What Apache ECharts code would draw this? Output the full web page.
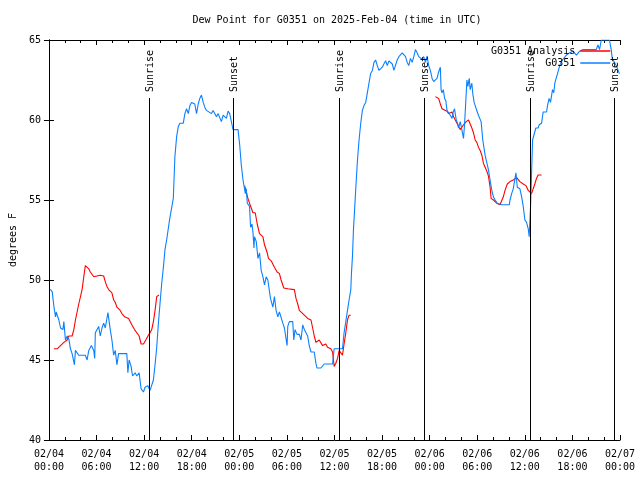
<!DOCTYPE html>
<html>
<head>
<meta charset="utf-8">
<script src="https://cdn.jsdelivr.net/npm/echarts@6/dist/echarts.min.js"></script>
<style>html,body{margin:0;padding:0;background:#fff}#c{width:640px;height:480px}</style>
</head>
<body>
<div id="c"></div>
<script>
// Time axis: hours since 2025-02-04 00:00 UTC
const xTickLabels = ['02/04\n00:00','02/04\n06:00','02/04\n12:00','02/04\n18:00','02/05\n00:00','02/05\n06:00','02/05\n12:00','02/05\n18:00','02/06\n00:00','02/06\n06:00','02/06\n12:00','02/06\n18:00','02/07\n00:00'];
const yTicks = [40, 45, 50, 55, 60, 65];

// G0351 observations
const obsHours = [0.16,0.41,0.63,0.83,0.92,1.04,1.25,1.46,1.76,1.88,2.08,2.30,2.51,2.71,2.92,3.21,3.34,3.55,3.76,4.59,4.81,5.02,5.35,5.65,5.77,5.85,6.06,6.27,6.47,6.69,6.90,7.10,7.44,7.73,7.94,8.16,8.36,8.57,8.78,8.98,9.20,9.82,9.95,10.11,10.36,10.54,10.87,11.08,11.37,11.62,11.92,12.12,12.46,12.75,12.96,13.17,13.38,13.59,13.80,14.00,14.22,14.43,14.63,14.84,15.22,15.68,15.88,16.10,16.31,16.51,16.94,17.14,17.35,17.57,17.77,17.98,18.39,18.61,18.82,19.02,19.23,19.45,19.65,19.86,20.08,20.49,20.70,20.90,21.12,21.33,21.53,21.74,21.96,22.16,22.37,22.59,22.79,23.00,23.21,23.84,24.04,24.25,24.47,24.59,24.67,24.76,24.88,25.01,25.29,25.42,25.60,25.72,25.85,25.92,26.14,26.35,26.55,26.76,26.98,27.18,27.39,27.60,27.80,27.93,28.23,28.43,28.64,28.86,29.06,29.27,29.49,29.69,29.90,30.03,30.11,30.31,30.53,30.74,30.87,31.03,31.28,31.57,31.78,32.00,32.20,32.41,32.62,32.82,33.04,33.45,33.66,33.79,34.29,34.70,35.76,35.96,36.59,37.01,37.21,37.43,37.64,37.84,38.06,38.14,38.27,38.39,38.56,38.72,38.90,39.10,39.31,39.52,39.72,39.94,40.15,40.35,40.56,40.78,40.98,41.19,41.40,41.61,41.82,42.03,42.23,42.45,42.66,42.86,43.07,43.29,43.49,43.70,43.91,44.12,44.33,44.54,44.74,44.96,45.17,45.37,45.58,45.80,46.00,46.21,46.42,46.62,46.84,47.05,47.25,47.47,47.68,47.88,48.09,48.31,48.51,48.72,48.93,49.13,49.35,49.44,49.56,49.72,49.89,50.04,50.19,50.39,50.60,50.82,50.98,51.14,51.35,51.52,51.64,51.86,52.07,52.27,52.40,52.57,52.70,52.82,52.99,53.11,53.32,53.45,53.61,53.87,54.03,54.15,54.37,54.49,54.70,54.87,54.99,55.21,55.41,55.62,55.84,56.04,56.25,56.54,57.09,58.04,58.13,58.34,58.54,58.76,58.88,59.05,59.38,59.60,59.80,60.01,60.22,60.43,60.55,60.73,60.85,60.98,61.14,61.39,61.68,61.81,62.11,62.31,62.74,62.86,63.06,63.24,63.49,63.65,63.78,63.99,64.12,64.32,64.40,64.62,64.74,65.24,65.66,66.07,66.50,66.91,67.33,69.01,69.21,69.42,69.64,70.67,70.89,71.02,71.52,71.93];
const obsDewpt = [49.42,49.27,48.33,47.7,48.0,47.8,47.5,47.0,46.9,47.4,46.25,46.5,46.3,45.7,45.4,44.7,45.6,45.7,45.3,45.3,45.0,45.6,45.9,45.6,45.1,46.7,46.8,47.1,46.5,47.0,47.3,47.0,47.96,46.9,46.25,45.3,45.6,44.7,45.4,45.3,45.4,45.4,44.2,45.0,44.6,44.0,44.2,44.0,44.2,43.2,43.0,43.3,43.4,43.1,43.0,43.75,44.7,45.8,47.3,48.5,49.8,50.8,51.9,52.5,53.8,55.1,57.7,58.96,59.6,59.8,59.8,60.4,60.7,60.4,60.9,61.1,61.0,60.4,61.0,61.35,61.56,61.1,60.8,60.6,60.5,60.4,60.6,60.7,60.2,60.4,60.3,59.9,60.3,60.4,60.1,60.56,60.4,59.9,59.4,59.4,58.5,57.2,56.25,55.9,55.8,55.4,55.7,54.8,54.6,53.3,53.5,53.0,52.0,52.7,52.4,51.35,51.7,50.6,50.2,49.7,50.2,50.0,50.0,48.85,48.3,48.96,48.1,47.7,48.0,47.9,47.3,47.0,47.1,45.9,47.1,47.4,47.3,47.4,46.25,46.9,46.6,46.6,46.25,47.2,46.9,46.7,46.5,45.9,45.5,45.5,44.8,44.5,44.5,44.75,44.75,45.7,45.7,45.7,46.7,47.4,48.1,48.75,49.4,50.4,51.5,53.1,54.6,56.0,57.5,58.75,59.8,60.6,60.9,61.1,61.2,62.3,62.9,63.1,63.6,63.75,63.4,63.1,63.0,63.3,63.5,63.7,63.4,63.7,63.7,63.5,63.1,63.0,63.75,63.96,64.0,64.2,64.2,63.96,63.6,63.4,63.85,63.6,63.96,64.4,64.2,63.96,64.06,63.8,63.96,63.6,64.0,63.4,63.1,62.6,62.4,62.5,62.6,63.0,63.3,61.9,61.7,61.9,61.35,61.2,60.6,60.5,60.3,60.1,60.5,60.7,60.0,59.8,59.5,59.9,59.8,58.85,59.7,61.3,62.5,62.1,62.6,61.9,62.3,61.6,61.1,60.7,60.6,60.3,60.2,59.9,58.75,58.65,57.8,57.8,56.9,56.25,55.6,55.2,55.0,54.8,54.7,54.7,55.0,55.4,55.7,55.8,56.7,55.8,55.7,55.2,54.6,53.75,53.6,53.2,52.7,54.7,56.7,58.75,58.75,59.5,59.5,59.7,59.8,60.5,60.5,60.9,61.35,61.1,61.9,61.7,62.3,62.4,62.9,63.0,63.4,63.3,63.75,64.06,64.2,64.3,64.06,64.3,64.4,64.4,64.7,64.4,65.0,65.0,64.4,63.85,63.4,62.9];

// G0351 Analysis (null = no analysis)
const anlHours = [0.63,1.04,1.46,1.88,2.30,2.51,2.92,3.14,3.34,3.55,3.76,3.96,4.18,4.39,4.59,4.81,5.02,5.22,5.43,5.65,6.06,6.47,6.90,7.10,7.31,7.53,7.94,8.16,8.36,8.57,8.98,9.20,9.54,10.04,10.45,10.79,11.08,11.37,11.62,11.92,12.21,12.55,12.75,12.96,13.17,13.38,13.59,13.88,19.0,24.67,24.88,25.09,25.29,25.51,25.72,26.01,26.26,26.55,26.98,27.18,27.52,27.68,28.02,28.43,28.77,29.06,29.27,29.61,30.11,30.94,31.15,31.37,31.57,31.78,32.20,32.62,33.04,33.25,33.45,33.66,33.88,34.08,34.50,34.91,35.13,35.54,35.76,35.96,36.17,36.39,36.59,36.80,37.01,37.21,37.43,37.64,37.84,38.06,43.0,48.72,49.13,49.35,49.56,49.76,50.19,50.39,50.60,50.82,51.02,51.23,51.45,51.64,51.86,52.07,52.27,52.61,52.90,53.11,53.32,53.53,53.74,53.95,54.15,54.37,54.58,54.78,54.99,55.21,55.41,55.62,55.75,56.04,56.46,56.87,57.09,57.29,57.50,57.79,58.13,58.54,58.97,59.38,59.80,60.14,60.43,60.85,61.05,61.26,61.47,61.67,62.11];
const anlDewpt = [45.7,45.7,45.9,46.1,46.25,46.5,46.5,46.9,47.5,48.0,48.5,48.6,49.4,50.2,50.9,50.9,50.7,50.5,50.4,50.2,50.25,50.3,50.25,49.9,49.6,49.4,49.2,48.75,48.6,48.3,48.1,47.9,47.7,47.6,47.2,46.9,46.7,46.5,46.0,46.0,46.25,46.56,46.7,46.9,47.4,48.1,48.96,49.06,null,55.9,55.85,55.1,54.8,54.5,54.2,54.2,53.5,52.9,52.7,52.2,51.7,51.35,51.2,50.8,50.5,50.4,50.0,49.5,49.45,49.4,48.85,48.5,48.1,48.0,47.8,47.6,47.5,47.0,46.5,46.1,46.0,46.25,45.9,46.0,45.8,45.7,45.5,44.6,44.8,45.1,45.6,45.6,45.3,46.0,46.7,47.5,47.8,47.8,null,61.46,61.35,61.0,60.7,60.6,60.55,60.4,60.3,60.5,60.2,60.0,59.8,59.6,59.4,59.5,59.7,59.9,60.0,59.9,59.5,59.2,58.75,58.6,58.3,58.1,57.8,57.3,57.2,56.8,56.5,55.8,55.1,55.0,54.8,54.7,54.7,55.2,55.6,56.0,56.15,56.25,56.4,56.15,56.0,55.9,55.6,55.4,55.7,56.0,56.35,56.56,56.56];

// Sunrise / sunset markers
const sunHours = [12.62, 23.17, 36.59, 47.25, 60.64, 71.22];
const sunLabels = ['Sunrise', 'Sunset', 'Sunrise', 'Sunset', 'Sunrise', 'Sunset'];

const FONT = '"DejaVu Sans Mono", monospace';
const zip = (a, b) => a.map((v, i) => [v, b[i]]);

const chart = echarts.init(document.getElementById('c'), null, {renderer: 'canvas'});
const baseX = {
  type: 'value', min: 0, max: 72, interval: 6,
  axisLine: {show: true, lineStyle: {color: '#000', width: 1}},
  axisTick: {show: true, inside: true, length: 5, lineStyle: {color: '#000'}},
  minorTick: {show: true, splitNumber: 3, length: 3, lineStyle: {color: '#000'}},
  splitLine: {show: false}
};
const baseY = {
  type: 'value', min: 40, max: 65, interval: 5,
  axisLine: {show: true, lineStyle: {color: '#000', width: 1}},
  axisTick: {show: true, inside: true, length: 5, lineStyle: {color: '#000'}},
  splitLine: {show: false}
};
chart.setOption({
  animation: false,
  backgroundColor: '#fff',
  title: {
    text: 'Dew Point for G0351 on 2025-Feb-04 (time in UTC)',
    left: 332, textAlign: 'center', top: 10,
    textStyle: {fontFamily: FONT, fontSize: 10, fontWeight: 'normal', color: '#000'}
  },
  legend: {
    orient: 'vertical', right: 24, top: 41, align: 'right',
    itemWidth: 30, itemHeight: 10, itemGap: 2,
    itemStyle: {opacity: 0},
    lineStyle: {width: 1.5},
    textStyle: {fontFamily: FONT, fontSize: 10, color: '#000'},
    data: ['G0351 Analysis', 'G0351']
  },
  grid: {left: 47, right: 20, top: 40, bottom: 40},
  xAxis: [
    Object.assign({}, baseX, {
      position: 'bottom',
      axisLabel: {
        fontFamily: FONT, fontSize: 10, color: '#000', margin: 8, lineHeight: 13,
        formatter: v => xTickLabels[Math.round(v / 6)]
      }
    }),
    Object.assign({}, baseX, {position: 'top', axisLabel: {show: false}})
  ],
  yAxis: [
    Object.assign({}, baseY, {
      position: 'left',
      name: 'degrees F', nameLocation: 'middle', nameGap: 30,
      nameTextStyle: {fontFamily: FONT, fontSize: 10, color: '#000'},
      axisLabel: {
        fontFamily: FONT, fontSize: 10, color: '#000', margin: 8,
        formatter: v => (yTicks.indexOf(v) >= 0 ? String(v) : '')
      }
    }),
    Object.assign({}, baseY, {position: 'right', axisLabel: {show: false}})
  ],
  series: [
    {
      name: 'G0351 Analysis', type: 'line', data: zip(anlHours, anlDewpt),
      symbol: 'none', connectNulls: false, color: '#ff0000',
      lineStyle: {width: 1.1, color: '#ff0000'}, z: 2
    },
    {
      name: 'G0351', type: 'line', data: zip(obsHours, obsDewpt),
      symbol: 'none', color: '#0a80ff',
      lineStyle: {width: 1.1, color: '#0a80ff'}, z: 3
    },
    {
      name: 'sun', type: 'custom', data: zip(sunHours, sunLabels),
      z: 4, silent: true, clip: false,
      renderItem: function (params, api) {
        const t = api.value(0);
        const i = params.dataIndex;
        const p0 = api.coord([t, 40]);
        const p1 = api.coord([t, 61.375]);
        const x = Math.round(p0[0]) + 0.5;
        return {
          type: 'group',
          children: [
            {type: 'line', shape: {x1: x, y1: p0[1], x2: x, y2: p1[1]},
             style: {stroke: '#000', lineWidth: 1}},
            {type: 'text', x: x + 1, y: p1[1] - 6, rotation: Math.PI / 2,
             style: {text: sunLabels[i], fill: '#000', font: '10px ' + FONT,
                     align: 'left', verticalAlign: 'middle'}}
          ]
        };
      }
    }
  ]
});
</script>
</body>
</html>
